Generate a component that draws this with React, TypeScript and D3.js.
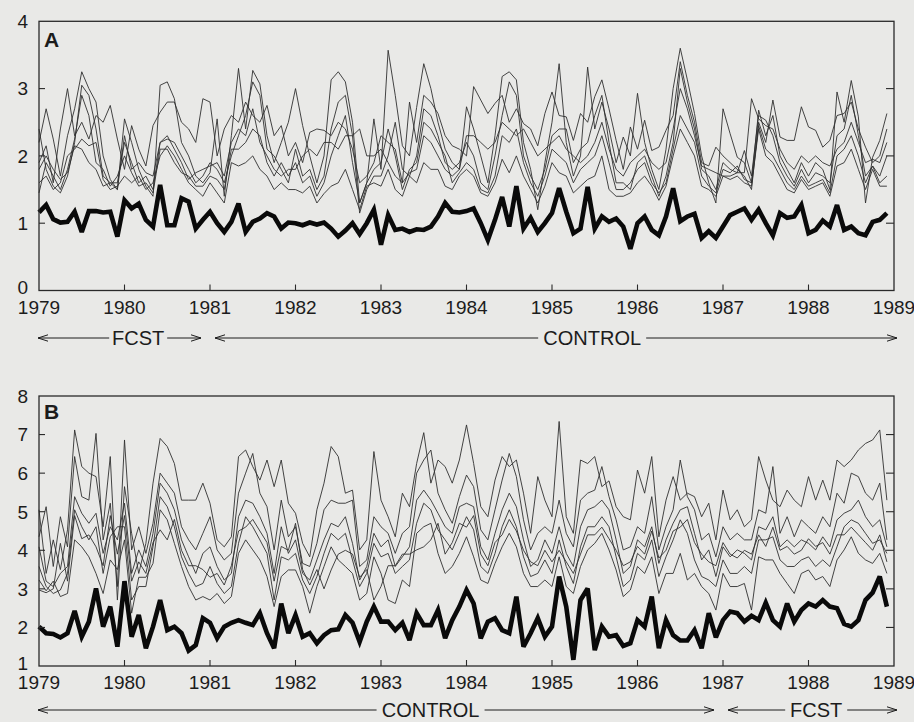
import React from "react";
import * as d3 from "d3";

// ---------- DATA ----------
const yearTicks = [1979, 1980, 1981, 1982, 1983, 1984, 1985, 1986, 1987, 1988, 1989];
const yTicksA = [0, 1, 2, 3, 4];
const yTicksB = [1, 2, 3, 4, 5, 6, 7, 8];
const startYear = 1979;

// Panel A thick line (monthly, Jan 1979 - Dec 1988)
const thickA = [
  1.16, 1.27, 1.06, 1.01, 1.02, 1.17, 0.87, 1.18, 1.18, 1.16, 1.17, 0.80,
  1.34, 1.22, 1.29, 1.05, 0.95, 1.57, 0.97, 0.97, 1.37, 1.32, 0.92, 1.05,
  1.17, 1.0, 0.87, 1.02, 1.29, 0.87, 1.02, 1.07, 1.15, 1.10, 0.92, 1.01,
  1.0, 0.97, 1.01, 0.98, 1.01, 0.92, 0.80, 0.89, 1.0, 0.84, 1.0, 1.2,
  0.68, 1.12, 0.9, 0.92, 0.87, 0.91, 0.9, 0.95, 1.1, 1.3, 1.17, 1.16,
  1.18, 1.22, 1.0, 0.75, 1.05, 1.39, 0.95, 1.55, 0.92, 1.08, 0.87, 1.0,
  1.15, 1.52, 1.17, 0.85, 0.92, 1.54, 0.92, 1.1, 1.02, 1.07, 0.95, 0.62,
  1.0, 1.1, 0.9, 0.82, 1.1, 1.52, 1.03, 1.1, 1.14, 0.78, 0.88, 0.78,
  0.95, 1.12, 1.17, 1.22, 1.05, 1.2, 1.0, 0.82, 1.15, 1.08, 1.1, 1.27,
  0.85, 0.9, 1.04, 0.95, 1.27, 0.9, 0.95, 0.85, 0.82, 1.02, 1.05, 1.15,
];

const thinA1 = [
  2.2, 2.7, 2.25, 1.7, 2.3, 2.7, 3.25, 3.0, 2.8, 2.0, 1.65, 1.5,
  2.55, 2.2, 1.8, 1.55, 1.4, 3.05, 3.1, 2.85, 2.2, 2.0, 1.7, 1.6,
  1.75, 2.55, 1.4, 2.3, 3.3, 2.4, 3.27, 3.07, 2.3, 1.9, 2.2, 2.5,
  3.0, 2.45, 2.0, 1.6, 2.0, 3.13, 3.25, 3.1, 2.5, 1.3, 1.6, 2.55,
  1.8, 3.57, 2.9, 2.15, 2.0, 2.72, 3.37, 3.0, 2.5, 2.1, 1.9, 1.8,
  2.73, 2.4, 2.0, 1.6, 2.3, 3.18, 3.25, 3.13, 2.2, 1.8, 1.2, 1.9,
  2.5, 3.37, 2.2, 1.7, 2.0, 3.32, 2.4, 2.8, 2.4, 1.9, 2.28, 2.0,
  2.93, 2.2, 1.8, 1.5, 2.1, 3.0, 3.6, 3.13, 2.63, 2.0, 1.6, 1.3,
  2.7, 2.33, 1.98, 1.9, 1.6, 2.68, 2.3, 2.6, 2.0, 1.8, 1.6, 1.9,
  1.7, 1.9, 1.8, 1.5, 2.95, 2.5, 3.12, 2.58, 1.3, 1.98, 2.23, 2.63,
];
const thinA2 = [
  1.9, 2.15, 1.6, 2.4, 3.0, 2.3, 2.5, 2.25, 2.6, 2.5, 2.75, 2.25,
  1.8, 2.45, 2.1, 1.85, 2.45, 2.65, 2.8, 2.8, 2.5, 2.4, 2.2, 2.85,
  2.8, 2.0, 2.4, 2.6, 2.5, 2.8, 2.6, 2.5, 2.75, 2.3, 2.45, 2.0,
  2.2, 1.9, 2.35, 2.4, 2.38, 2.3, 2.5, 2.4, 2.1, 1.6, 1.7, 1.9,
  2.3, 2.2, 2.1, 1.6, 2.8, 2.2, 2.9, 2.8, 2.63, 2.3, 2.15, 2.1,
  2.0, 3.03, 2.83, 2.63, 2.78, 2.9, 2.5, 2.7, 2.48, 2.4, 2.15, 2.63,
  2.95, 2.6, 2.58, 2.23, 2.63, 2.5, 2.88, 3.13, 2.7, 2.23, 1.8, 2.43,
  2.1, 2.53, 2.08, 2.13, 2.38, 2.6, 3.4, 2.9, 2.5, 1.9, 1.85, 2.13,
  2.0, 1.9, 1.8, 1.7, 1.5, 2.5, 2.2, 2.83, 2.28, 2.23, 2.23, 2.73,
  2.43, 2.38, 2.13, 2.23, 2.6, 2.63, 2.8, 2.4, 2.13, 1.9, 2.0, 2.4,
];
const thinA3 = [
  2.4, 1.8, 1.55, 1.45, 1.7, 2.2, 3.05, 2.9, 2.4, 1.7, 1.6, 1.6,
  2.2, 1.9, 1.6, 1.7, 1.5, 2.2, 2.25, 2.2, 2.0, 1.8, 1.6, 1.7,
  1.9, 1.8, 1.6, 2.0, 2.3, 2.6, 3.1, 2.9, 2.1, 2.0, 1.8, 1.6,
  2.1, 1.7, 1.8, 1.5, 1.7, 2.4, 2.8, 2.9, 2.3, 1.15, 1.5, 1.7,
  1.7, 2.0, 2.5, 1.8, 1.7, 2.0, 2.7, 2.6, 2.3, 1.9, 1.8, 1.9,
  2.2, 2.0, 1.6, 1.5, 2.0, 2.6, 3.1, 2.9, 2.0, 1.7, 1.5, 1.8,
  2.3, 2.4, 2.4, 1.9, 2.1, 2.2, 2.6, 2.9, 2.2, 1.6, 1.6, 1.5,
  1.9, 2.0, 1.7, 1.4, 1.7, 2.2, 3.3, 2.8, 2.4, 1.8, 1.7, 1.5,
  1.9, 1.8, 1.75, 2.08, 1.7, 2.6, 2.53, 2.3, 1.9, 1.7, 1.55, 1.8,
  1.6, 1.75, 1.7, 1.6, 2.3, 2.4, 2.9, 2.3, 1.7, 1.85, 1.7, 2.0,
];
const thinA4 = [
  1.6, 1.7, 1.5, 1.6, 2.0, 2.1, 2.25, 2.15, 2.2, 1.65, 1.5, 1.55,
  1.7, 1.6, 1.7, 1.5, 1.6, 2.0, 2.15, 2.0, 1.8, 1.6, 1.5, 1.4,
  1.6, 1.45, 1.3, 1.9, 1.85, 1.9, 2.0, 1.8, 1.7, 1.5, 1.6, 1.5,
  1.5, 1.45, 1.55, 1.3, 1.44, 1.55, 1.6, 1.8, 1.5, 1.2, 1.55, 1.6,
  1.55, 1.8, 1.5, 1.4, 1.7, 1.6, 1.9, 1.8, 1.8, 1.55, 1.5, 1.7,
  1.8, 1.7, 1.45, 1.4, 1.6, 1.95, 1.75, 2.0, 1.7, 1.5, 1.3, 1.55,
  1.9, 1.75, 1.7, 1.45, 1.55, 1.65, 1.7, 2.0, 1.5, 1.4, 1.4, 1.45,
  1.6, 1.7, 1.55, 1.34, 1.55, 2.0, 2.4, 2.2, 2.0, 1.55, 1.5, 1.4,
  1.7, 1.65, 1.7, 1.6, 1.55, 2.4, 2.0, 1.9, 1.7, 1.5, 1.45, 1.65,
  1.5, 1.55, 1.6, 1.4, 1.85, 1.9, 2.1, 1.8, 1.5, 1.8, 1.55, 1.55,
];
const thinA5 = [
  1.45, 1.9, 1.7, 1.5, 1.8, 2.25, 2.9, 2.6, 1.9, 1.8, 1.55, 1.7,
  2.0, 1.75, 1.55, 1.6, 1.45, 2.1, 2.1, 1.9, 1.75, 1.7, 1.55, 1.55,
  1.7, 1.65, 1.5, 2.1, 2.1, 2.2, 2.4, 2.3, 1.9, 1.7, 1.9, 1.7,
  1.9, 1.6, 1.7, 1.4, 1.6, 2.0, 2.3, 2.6, 1.9, 1.3, 1.6, 1.8,
  1.9, 2.4, 2.0, 1.5, 1.8, 1.9, 2.5, 2.4, 2.2, 2.0, 1.6, 1.75,
  1.9, 1.8, 1.5, 1.45, 1.7, 2.3, 2.2, 2.4, 1.9, 1.6, 1.4, 1.7,
  2.1, 2.0, 1.9, 1.6, 1.8, 1.9, 2.0, 2.3, 1.9, 1.5, 1.5, 1.6,
  1.8, 1.9, 1.6, 1.45, 1.6, 2.1, 2.6, 2.4, 2.2, 1.7, 1.55, 1.45,
  1.8, 1.75, 1.85, 1.65, 1.6, 2.45, 2.1, 2.0, 1.8, 1.6, 1.5, 1.7,
  1.55, 1.6, 1.65, 1.45, 2.0, 2.1, 2.3, 2.0, 1.6, 1.85, 1.6, 1.7,
];
const thinA6 = [
  1.8, 2.0, 1.8, 1.65, 1.75, 2.15, 2.1, 1.9, 1.8, 1.55, 1.6, 1.5,
  2.3, 1.8, 1.9, 1.75, 1.7, 2.2, 2.3, 2.1, 1.9, 1.65, 1.75, 1.8,
  1.85, 1.9, 1.7, 2.2, 2.4, 2.3, 2.7, 2.2, 2.0, 1.8, 1.7, 1.8,
  1.8, 2.0, 2.1, 2.0, 2.2, 2.2, 2.1, 2.3, 2.3, 2.4, 2.0, 2.0,
  2.1, 1.9, 1.7, 1.6, 1.75, 1.8, 2.3, 2.2, 2.0, 1.8, 1.7, 1.8,
  2.3, 2.3, 2.2, 2.1, 2.2, 2.5, 2.4, 2.3, 2.4, 2.2, 2.0, 2.1,
  2.2, 2.3, 2.1, 2.0, 1.9, 2.0, 2.2, 2.5, 2.1, 1.8, 1.7, 1.9,
  2.0, 2.1, 1.9, 1.8, 1.9, 2.4, 3.0, 2.7, 2.3, 1.85, 1.8, 1.75,
  1.7, 1.7, 1.75, 1.75, 2.85, 2.55, 2.45, 2.4, 2.1, 1.9, 1.8, 2.0,
  1.9, 2.0, 1.9, 1.85, 2.1, 2.2, 2.5, 2.2, 1.9, 1.95, 1.9, 2.2,
];

// Panel B thick line
const thickB = [
  2.02, 1.85, 1.83, 1.74, 1.85, 2.43, 1.76, 2.15, 3.01, 2.02, 2.54, 1.50,
  3.20, 1.76, 2.32, 1.46, 2.02, 2.71, 1.93, 2.02, 1.85, 1.40, 1.54, 2.24,
  2.12, 1.72, 2.02, 2.12, 2.19, 2.12, 2.06, 2.37, 1.85, 1.46, 2.62, 1.85,
  2.32, 1.76, 1.85, 1.59, 1.8, 1.93, 1.95, 2.32, 2.12, 1.63, 2.15, 2.54,
  2.15, 2.15, 1.93, 2.12, 1.67, 2.37, 2.06, 2.06, 2.45, 1.72, 2.19, 2.54,
  2.97, 2.62, 1.72, 2.15, 2.24, 1.93, 1.85, 2.80, 1.50, 1.85, 2.24, 1.76,
  2.02, 3.32, 2.54, 1.16, 2.71, 3.01, 1.41, 2.02, 1.76, 1.80, 1.52, 1.59,
  2.19, 2.02, 2.80, 1.46, 2.19, 1.80, 1.66, 1.66, 1.93, 1.46, 2.37, 1.74,
  2.19, 2.41, 2.37, 2.15, 2.30, 2.19, 2.64, 2.19, 2.02, 2.62, 2.15, 2.45,
  2.62, 2.54, 2.71, 2.54, 2.50, 2.09, 2.02, 2.19, 2.71, 2.90, 3.32, 2.54,
];

const thinB1 = [
  5.05, 3.4, 4.27, 3.5, 4.53, 7.12, 6.17, 6.0, 5.91, 4.61, 6.43, 2.71,
  5.65, 4.44, 3.4, 4.18, 5.74, 6.9, 6.69, 6.25, 5.3, 5.3, 5.3, 5.74,
  5.22, 4.27, 4.09, 4.35, 6.43, 6.6, 6.17, 5.82, 6.34, 5.65, 6.34, 5.22,
  4.96, 4.18, 3.83, 5.05, 5.74, 6.69, 6.43, 5.48, 5.56, 4.01, 4.27, 6.56,
  5.3, 4.87, 4.35, 5.48, 5.13, 6.25, 7.05, 5.74, 6.34, 6.17, 5.74, 6.34,
  7.25, 6.25, 5.13, 4.87, 5.82, 6.43, 6.17, 6.34, 5.48, 4.44, 5.91, 5.3,
  4.87, 7.34, 4.87, 4.44, 6.34, 6.25, 6.43, 5.65, 5.8, 5.13, 4.87, 4.79,
  6.08, 5.48, 6.43, 4.35, 5.3, 5.91, 5.3, 5.48, 5.39, 4.87, 5.22, 4.27,
  5.56, 4.79, 5.05, 4.61, 4.79, 6.43, 5.82, 5.3, 5.13, 5.56, 5.3, 5.13,
  5.91, 5.3, 5.82, 5.3, 6.34, 6.17, 6.34, 6.6, 6.77, 6.86, 7.12, 5.3,
];
const thinB2 = [
  4.35, 5.13, 3.58, 4.87, 4.09, 6.43, 5.39, 5.3, 7.03, 4.27, 5.22, 3.06,
  6.86, 4.01, 4.61, 3.92, 4.7, 6.0, 5.74, 5.48, 4.61, 4.27, 4.01, 4.44,
  4.87, 4.01, 3.75, 3.92, 5.48, 6.0, 6.51, 5.48, 5.13, 4.01, 5.3, 4.35,
  4.61, 3.66, 3.58, 4.18, 5.05, 5.3, 5.22, 5.22, 5.3, 3.58, 3.75, 4.87,
  4.61, 4.44, 3.92, 4.44, 4.61, 6.0, 6.34, 6.6, 5.48, 5.05, 4.7, 5.39,
  5.95, 5.65, 4.53, 4.27, 5.05, 5.82, 6.51, 5.91, 4.79, 4.01, 4.44, 4.61,
  4.44, 5.3, 4.44, 4.09, 5.3, 5.48, 5.56, 6.17, 5.39, 4.79, 4.01, 4.09,
  4.61, 4.44, 5.39, 4.01, 4.61, 5.05, 6.34, 5.39, 5.05, 4.27, 4.44, 3.83,
  4.61, 4.27, 4.44, 4.27, 4.27, 5.05, 4.96, 6.17, 4.44, 4.87, 4.35, 4.79,
  4.61, 4.44, 4.87, 4.61, 5.48, 5.22, 6.0, 5.91, 5.48, 5.3, 5.74, 4.27,
];
const thinB3 = [
  4.09, 3.2, 3.06, 3.4, 3.58, 5.39, 4.96, 4.7, 4.96, 3.92, 4.61, 4.27,
  5.22, 3.4, 4.01, 3.58, 4.44, 5.74, 5.48, 5.05, 4.27, 3.83, 3.4, 3.92,
  4.09, 3.58, 3.23, 3.4, 4.87, 5.3, 5.22, 4.87, 4.44, 3.4, 4.61, 3.92,
  4.27, 3.4, 3.23, 3.75, 4.27, 4.7, 4.61, 4.87, 4.18, 3.23, 3.58, 4.44,
  4.09, 4.27, 3.58, 3.83, 4.09, 5.3, 5.56, 5.3, 4.96, 4.61, 4.44, 5.13,
  5.22, 5.13, 4.09, 3.75, 4.44, 5.05, 5.48, 5.13, 4.27, 3.58, 3.75, 4.27,
  3.92, 4.61, 3.92, 3.58, 4.61, 5.05, 5.13, 5.3, 5.05, 4.27, 3.4, 3.58,
  4.27, 4.09, 4.61, 3.66, 4.27, 4.7, 5.05, 5.13, 4.44, 3.75, 4.01, 3.32,
  4.09, 3.83, 4.01, 3.92, 3.75, 4.61, 4.53, 4.87, 4.09, 4.27, 4.09, 4.27,
  4.18, 4.01, 4.35, 4.09, 4.79, 4.96, 5.05, 5.3, 4.87, 4.61, 4.79, 4.09,
];
const thinB4 = [
  3.58, 3.06, 2.88, 2.97, 3.4, 5.05, 4.61, 4.27, 4.61, 3.4, 4.35, 4.61,
  4.61, 2.71, 3.06, 3.06, 4.09, 5.39, 5.13, 4.61, 3.83, 3.4, 3.06, 3.14,
  3.58, 3.14, 2.88, 3.06, 4.18, 4.87, 4.61, 4.27, 3.92, 2.71, 3.83, 3.75,
  3.92, 3.23, 2.88, 3.32, 3.92, 4.44, 4.27, 4.44, 3.75, 3.06, 3.4, 4.18,
  3.83, 3.92, 3.4, 3.58, 3.75, 4.7, 5.22, 5.05, 4.53, 4.27, 4.01, 4.44,
  4.87, 4.53, 3.58, 3.4, 3.92, 4.61, 5.05, 4.61, 3.83, 3.32, 3.4, 3.75,
  3.4, 4.27, 3.58, 3.14, 4.09, 4.61, 4.61, 4.87, 4.61, 3.83, 3.06, 3.23,
  3.92, 3.75, 4.27, 3.32, 3.83, 4.27, 4.79, 4.44, 3.75, 3.32, 3.23, 3.06,
  3.75, 3.4, 3.4, 3.58, 3.4, 4.27, 4.27, 4.35, 3.75, 3.58, 3.58, 3.75,
  3.83, 3.58, 3.75, 3.58, 4.09, 4.61, 4.79, 4.7, 4.44, 4.18, 4.27, 3.92,
];
const thinB5 = [
  3.23, 2.95, 3.2, 2.8, 2.88, 4.27, 4.09, 3.83, 3.4, 2.88, 3.75, 3.5,
  4.27, 2.37, 3.3, 3.3, 3.66, 5.05, 4.79, 4.18, 3.58, 3.06, 2.71, 2.8,
  2.71, 2.88, 2.62, 2.8, 3.92, 4.27, 4.01, 3.75, 3.32, 2.54, 3.32, 3.49,
  3.49, 3.06, 2.37, 3.06, 3.58, 4.09, 3.75, 3.58, 3.4, 2.71, 2.88, 3.83,
  3.4, 2.71, 2.62, 3.23, 3.06, 4.44, 4.61, 4.7, 3.92, 3.4, 3.58, 3.92,
  4.35, 3.83, 3.23, 3.14, 3.66, 4.09, 4.44, 4.09, 3.4, 3.06, 3.06, 3.23,
  3.06, 3.83, 3.06, 2.88, 3.58, 4.01, 4.18, 4.44, 4.01, 3.49, 2.8, 2.97,
  3.58, 3.4, 3.83, 2.88, 3.4, 3.4, 3.92, 3.23, 3.4, 3.06, 2.88, 2.45,
  3.4, 3.06, 3.06, 3.14, 2.45, 3.83, 3.75, 3.75, 3.4, 3.14, 2.88, 3.4,
  3.49, 3.23, 3.32, 3.06, 3.75, 4.01, 4.35, 3.92, 3.75, 3.66, 3.92, 3.4,
];
const thinB6 = [
  2.97, 2.9, 3.0, 4.18, 3.2, 4.9, 4.3, 4.4, 4.09, 3.6, 4.9, 3.9,
  4.9, 3.2, 3.7, 3.4, 4.2, 4.53, 4.27, 4.8, 4.0, 3.6, 3.6, 3.5,
  3.3, 3.4, 3.1, 3.6, 4.5, 4.6, 4.8, 4.5, 4.2, 3.2, 4.1, 4.0,
  4.7, 3.5, 3.1, 3.5, 3.0, 3.49, 3.9, 4.0, 3.9, 3.3, 3.5, 2.71,
  3.06, 3.6, 3.6, 3.9, 3.9, 4.01, 4.09, 4.27, 4.7, 3.9, 4.2, 4.7,
  4.6, 4.9, 3.9, 3.6, 4.2, 4.4, 4.8, 4.5, 4.0, 3.7, 3.6, 4.0,
  3.7, 4.0, 3.7, 3.4, 3.9, 4.4, 4.4, 4.6, 4.3, 4.0, 3.6, 3.7,
  4.1, 3.9, 4.5, 3.8, 4.0, 4.5, 4.6, 4.8, 4.2, 3.9, 3.7, 3.6,
  4.2, 3.9, 3.8, 4.0, 3.9, 4.4, 4.1, 4.6, 4.0, 4.1, 3.9, 4.0,
  4.3, 4.1, 4.2, 3.9, 4.4, 4.4, 4.6, 4.4, 4.2, 4.0, 4.4, 3.7,
];

const periodsA = [
  { label: "FCST", from: 1979, to: 1981, center: 1980.16, half: 29 },
  { label: "CONTROL", from: 1981, to: 1989, center: 1985.47, half: 54 },
];
const periodsB = [
  { label: "CONTROL", from: 1979, to: 1987, center: 1983.58, half: 54 },
  { label: "FCST", from: 1987, to: 1989, center: 1988.09, half: 31 },
];

// ---------- LAYOUT ----------
const W = 914;
const H = 722;
const FONT = "'Liberation Sans', Arial, Helvetica, sans-serif";
const INK = "#1c1c1c";

const x = d3.scaleLinear().domain([1979, 1989]).range([39, 894]);

type PanelProps = {
  letter: string;
  y: d3.ScaleLinear<number, number>;
  yTicks: number[];
  thick: number[];
  thin: number[][];
  periods: { label: string; from: number; to: number; center: number; half: number }[];
  arrowY: number;
  letterY: number;
};

function Arrow({ x1, x2, yy, dir }: { x1: number; x2: number; yy: number; dir: number }) {
  const tip = dir < 0 ? x1 : x2;
  const back = dir < 0 ? tip + 10 : tip - 10;
  return (
    <g stroke={INK} strokeWidth={1} fill="none">
      <line x1={x1} x2={x2} y1={yy} y2={yy} />
      <path d={`M${back},${yy - 3.2}L${tip},${yy}L${back},${yy + 3.2}`} />
    </g>
  );
}

function Panel({ letter, y, yTicks, thick, thin, periods, arrowY, letterY }: PanelProps) {
  const [y0, y1] = y.range();
  const bottom = Math.max(y0, y1);
  const top = Math.min(y0, y1);
  const left = x(1979);
  const right = x(1989);
  const line = d3
    .line<number>()
    .x((_, i) => x(startYear + i / 12))
    .y((v) => y(v));
  const inner = yTicks.slice(1, -1);
  const innerYears = yearTicks.slice(1, -1);
  return (
    <g>
      {thin.map((s, k) => (
        <path key={k} d={line(s) || ""} fill="none" stroke="#303030" strokeWidth={0.9} strokeLinejoin="round" />
      ))}
      <path d={line(thick) || ""} fill="none" stroke="#0a0a0a" strokeWidth={4.6} strokeLinejoin="miter" strokeMiterlimit={3} />
      <rect x={left} y={top} width={right - left} height={bottom - top} fill="none" stroke="#2a2a2a" strokeWidth={1.3} />
      {innerYears.map((yr) => (
        <line key={yr} x1={x(yr)} x2={x(yr)} y1={bottom} y2={bottom - 6} stroke="#2a2a2a" strokeWidth={1.1} />
      ))}
      {inner.map((t) => (
        <g key={t}>
          <line x1={right} x2={right - 8} y1={y(t)} y2={y(t)} stroke="#2a2a2a" strokeWidth={1.1} />
          <line x1={left} x2={left + 6} y1={y(t)} y2={y(t)} stroke="#2a2a2a" strokeWidth={1.1} />
        </g>
      ))}
      {yTicks.map((t, k) => (
        <text
          key={t}
          x={28}
          y={y(t) - (k === 0 ? 3 : 0)}
          dy="0.36em"
          textAnchor="end"
          fontSize={19}
          fontFamily={FONT}
          fill={INK}
        >
          {t}
        </text>
      ))}
      {yearTicks.map((yr) => (
        <text key={yr} x={x(yr)} y={bottom + 23} textAnchor="middle" fontSize={19} fontFamily={FONT} fill={INK}>
          {yr}
        </text>
      ))}
      <text x={left + 5} y={letterY} fontSize={21} fontWeight="bold" fontFamily={FONT} fill={INK}>
        {letter}
      </text>
      {periods.map((p, k) => {
        const a = x(p.from) + (k === 0 ? -1 : 5);
        const b = x(p.to) + (k === periods.length - 1 ? 3 : -9);
        const c = x(p.center);
        return (
          <g key={p.label}>
            <Arrow x1={a} x2={c - p.half} yy={arrowY} dir={-1} />
            <Arrow x1={c + p.half} x2={b} yy={arrowY} dir={1} />
            <text x={c} y={arrowY + 7} textAnchor="middle" fontSize={20} fontFamily={FONT} fill={INK}>
              {p.label}
            </text>
          </g>
        );
      })}
    </g>
  );
}

export default function App() {
  const yA = d3.scaleLinear().domain([0, 4]).range([290.5, 21.3]);
  const yB = d3.scaleLinear().domain([1, 8]).range([666, 396]);
  return (
    <svg
      width={W}
      height={H}
      viewBox={`0 0 ${W} ${H}`}
      style={{ position: "absolute", left: 0, top: 0, display: "block" }}
    >
      <rect x={0} y={0} width={W} height={H} fill="#e9e9e7" />
      <Panel
        letter="A"
        y={yA}
        yTicks={yTicksA}
        thick={thickA}
        thin={[thinA1, thinA2, thinA3, thinA4, thinA5, thinA6]}
        periods={periodsA}
        arrowY={338}
        letterY={47}
      />
      <Panel
        letter="B"
        y={yB}
        yTicks={yTicksB}
        thick={thickB}
        thin={[thinB1, thinB2, thinB3, thinB4, thinB5, thinB6]}
        periods={periodsB}
        arrowY={710}
        letterY={419}
      />
    </svg>
  );
}
